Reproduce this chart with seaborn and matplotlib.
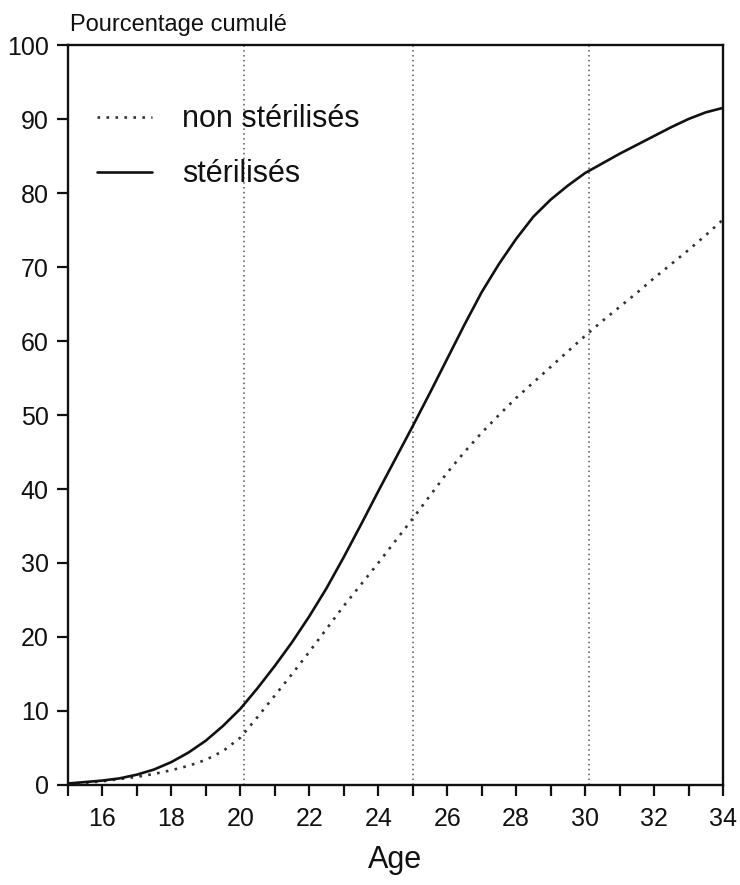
import matplotlib
matplotlib.use("Agg")
import matplotlib.pyplot as plt
from matplotlib.lines import Line2D
import seaborn as sns
import pandas as pd

ages = [15, 15.5, 16, 16.5, 17, 17.5, 18, 18.5, 19, 19.5, 20, 20.5, 21, 21.5, 22, 22.5,
        23, 23.5, 24, 24.5, 25, 25.5, 26, 26.5, 27, 27.5, 28, 28.5, 29, 29.5, 30, 30.5,
        31, 31.5, 32, 32.5, 33, 33.5, 34]
sterilises = [0.2, 0.4, 0.6, 0.9, 1.4, 2.1, 3.1, 4.4, 6.0, 8.0, 10.3, 13.1, 16.1, 19.3, 22.8, 26.6,
              30.8, 35.2, 39.7, 44.1, 48.5, 53.0, 57.6, 62.2, 66.6, 70.4, 73.8, 76.8, 79.1, 81.0, 82.7, 84.0,
              85.3, 86.5, 87.7, 88.9, 90.0, 90.9, 91.5]
non_sterilises = [0.2, 0.3, 0.5, 0.8, 1.1, 1.5, 2.0, 2.6, 3.4, 4.6, 6.4, 9.2, 12.1, 15.0, 18.0, 21.1,
                  24.2, 27.1, 30.0, 33.0, 36.0, 39.1, 42.2, 45.0, 47.6, 50.0, 52.3, 54.4, 56.5, 58.6, 60.7, 62.7,
                  64.6, 66.5, 68.5, 70.4, 72.3, 74.3, 76.4]
ref_lines = [20.1, 25.0, 30.1]
minor_ticks = [15, 16, 17, 18, 19, 20, 21, 22, 23, 24, 25, 26, 27, 28, 29, 30, 31, 32, 33, 34]
xtick_labels = [16, 18, 20, 22, 24, 26, 28, 30, 32, 34]
ytick_labels = [0, 10, 20, 30, 40, 50, 60, 70, 80, 90, 100]

sns.set_theme(style="ticks")
plt.rcParams['font.family'] = ['Liberation Sans', 'DejaVu Sans']

df = pd.DataFrame({
    "Age": ages * 2,
    "pct": non_sterilises + sterilises,
    "groupe": ["non stérilisés"] * len(ages) + ["stérilisés"] * len(ages),
})

fig = plt.figure(figsize=(7.4, 8.85), dpi=100)
ax = fig.add_axes([68/740, 100/885, 655/740, 740/885])

for xv in ref_lines:
    ax.axvline(xv, color="#555555", lw=1.1, ls=(0, (1, 2.2)), zorder=1)

dot_style = (1, 2.4)
sns.lineplot(data=df, x="Age", y="pct", hue="groupe", style="groupe",
             palette={"non stérilisés": "#333333", "stérilisés": "#111111"},
             dashes={"non stérilisés": dot_style, "stérilisés": ""},
             ax=ax, legend=False, zorder=3)
for ln in ax.get_lines()[len(ref_lines):]:
    ln.set_linewidth(1.9)

ax.set_xlim(15, 34)
ax.set_ylim(0, 100)
ax.set_xticks(xtick_labels)
ax.set_xticks(minor_ticks, minor=True)
ax.set_yticks(ytick_labels)
ax.tick_params(axis="both", which="both", direction="out", length=8, width=1.6, color="#111111",
               labelcolor="#111111")
ax.tick_params(axis="x", which="major", labelsize=18, pad=8)
ax.tick_params(axis="y", labelsize=18, pad=6)
for s in ax.spines.values():
    s.set_linewidth(1.7)
    s.set_color("#111111")
    s.set_visible(True)

ax.set_xlabel("Age", fontsize=22, color="#111111", labelpad=10)
ax.set_ylabel("")
ax.text(0.003, 1.019, "Pourcentage cumulé", transform=ax.transAxes, fontsize=17,
        ha="left", va="baseline", color="#111111")

handles = [Line2D([], [], color="#333333", lw=1.9, ls=(0, dot_style)),
           Line2D([], [], color="#111111", lw=1.9)]
ax.legend(handles, ["non stérilisés", "stérilisés"], loc="upper left",
          bbox_to_anchor=(0.044, 0.920), frameon=False, fontsize=22,
          handlelength=1.8, handletextpad=0.98, labelspacing=0.82,
          borderpad=0, borderaxespad=0, labelcolor="#111111")

fig.savefig("out.png", dpi=100)
